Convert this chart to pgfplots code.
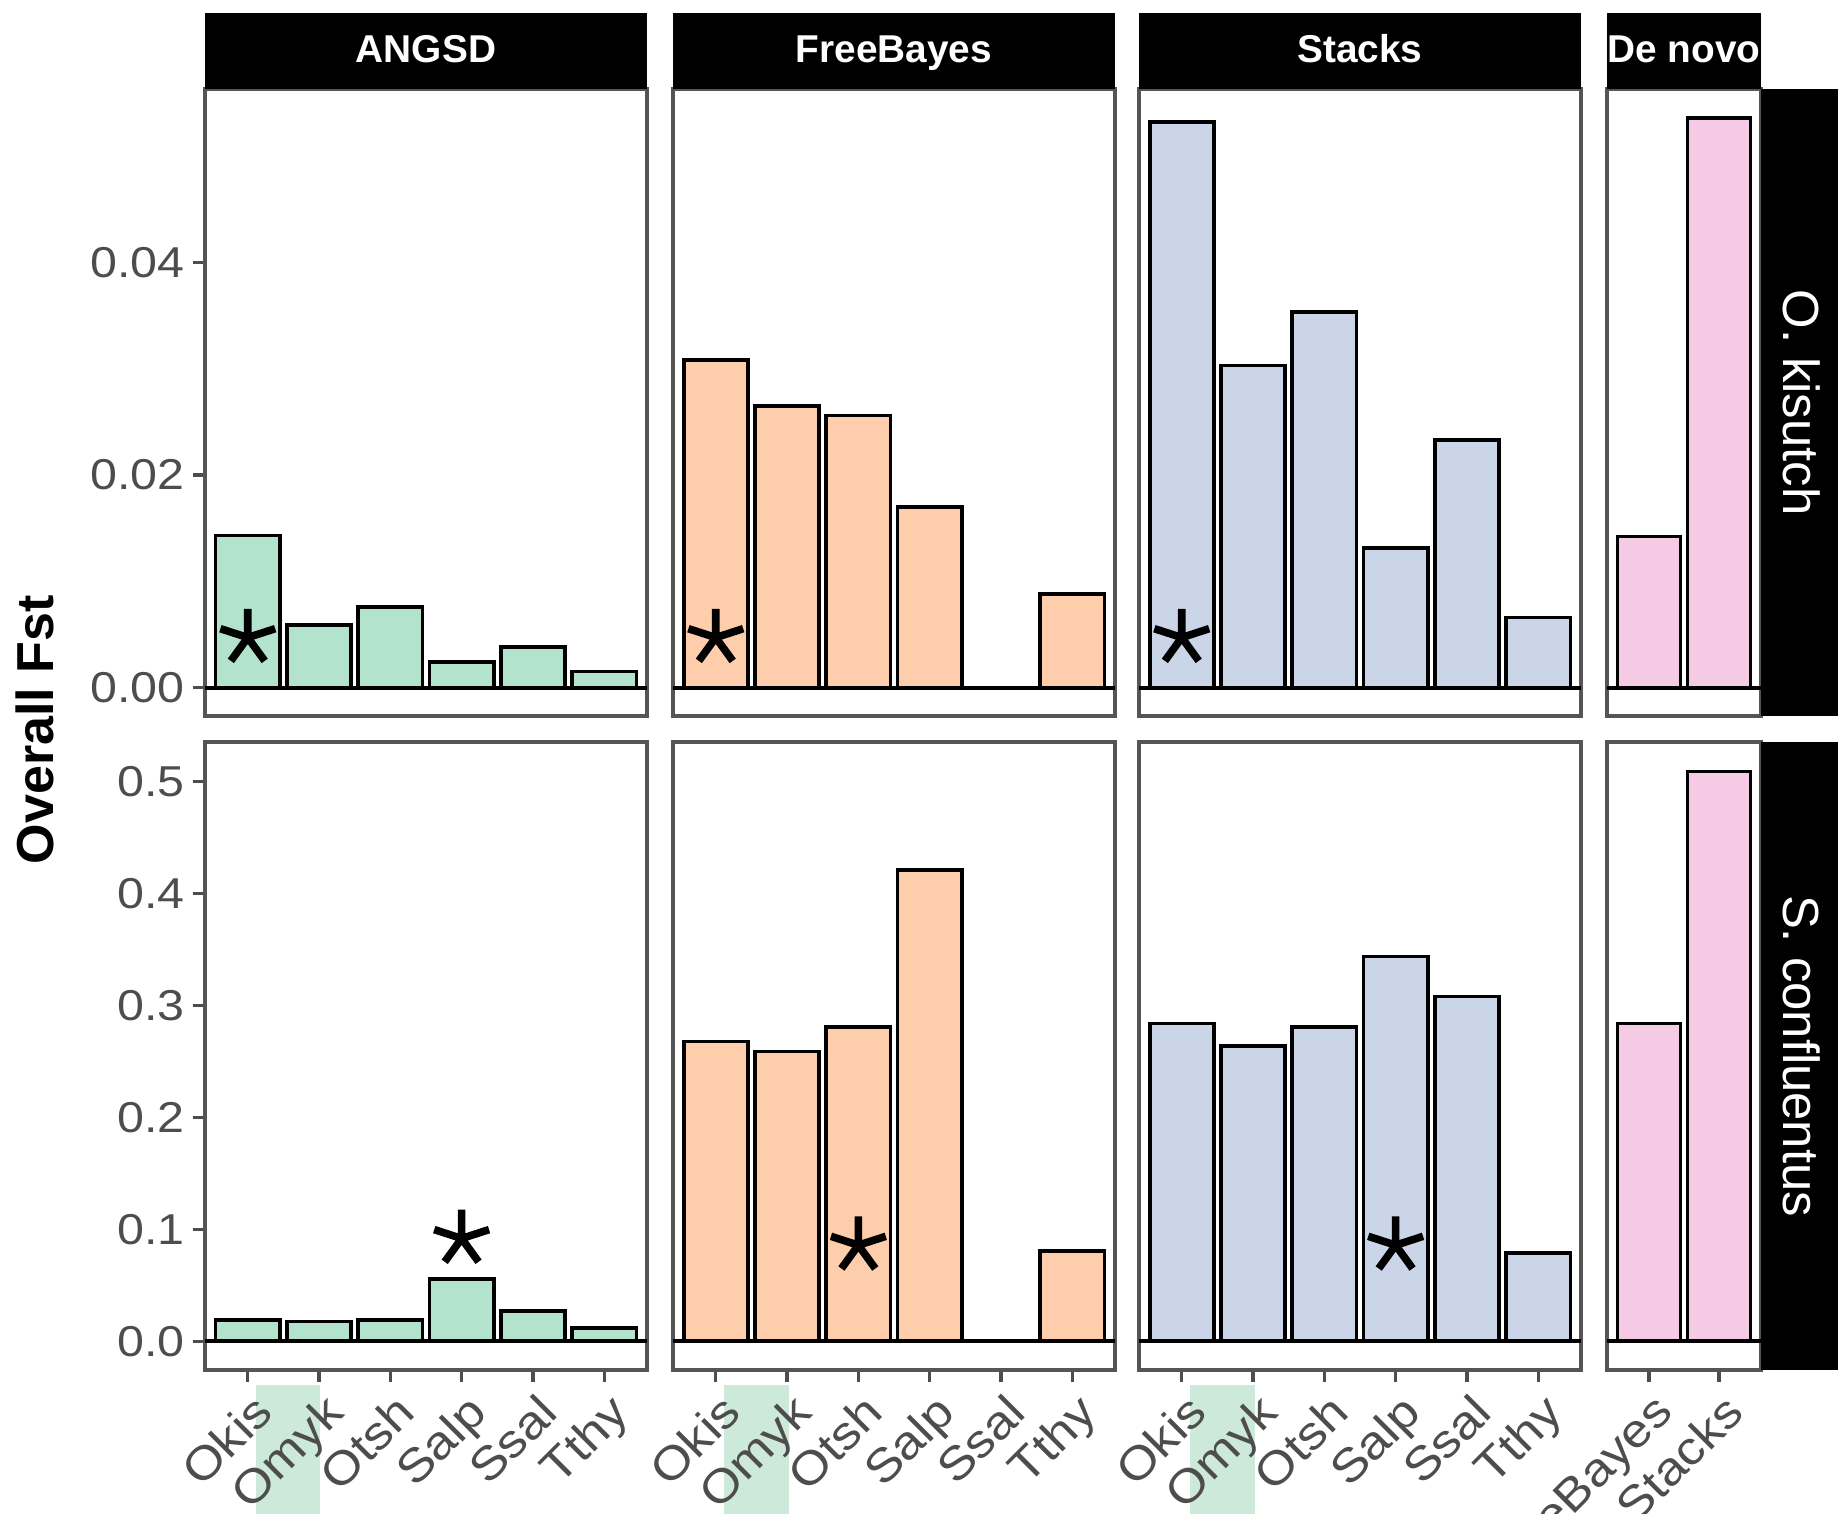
\documentclass[border=0pt]{standalone}
\usepackage{fontspec}
\setmainfont{Liberation Sans}
\newfontfamily\tickfont[FakeStretch=1.12]{Liberation Sans}
\usepackage{pgfplots}
\pgfplotsset{compat=1.18}

\definecolor{cA}{HTML}{B3E2CD}
\definecolor{cF}{HTML}{FDCDAC}
\definecolor{cS}{HTML}{CBD5E8}
\definecolor{cD}{HTML}{F4CAE4}
\definecolor{omykbg}{HTML}{CDE9D9}
\definecolor{framec}{HTML}{555555}
\definecolor{tickc}{HTML}{4D4D4D}

\pgfplotsset{
 panel/.style={
   set layers,
   scale only axis, width=110.5pt, anchor=south west,
   axis line style={framec, line width=0.95pt},
   xmin=-0.6, xmax=5.6,
   tick align=outside, tick pos=left,
   major tick length=2.9pt,
   every tick/.style={tickc, line width=0.8pt},
   ytick=\empty, xtick=\empty,
   clip=false,
   yticklabel style={font=\tickfont\fontsize{10.8}{12}\selectfont, text=tickc, xshift=1.3pt},
   xticklabel style={font=\tickfont\fontsize{11.6}{13}\selectfont, text=tickc,
      inner sep=1pt, xshift=0.8pt, yshift=-0.8pt, rotate=45, anchor=north east},
 },
 toprow/.style={height=156.75pt, ymin=-0.00268, ymax=0.0563},
 botrow/.style={height=157pt, ymin=-0.0255, ymax=0.5355},
 xlab/.style={xtick={0,...,5}, xticklabels={Okis,Omyk,Otsh,Salp,Ssal,Tthy}},
 bars/.style={ybar, bar width=0.9, bar shift=0pt, draw=black, line width=0.9pt},
 zline/.style={black, line width=1pt, mark=none},
 star/.style={only marks, mark=star, mark size=7.2pt, mark options={line width=1.9pt, draw=black}},
 hl/.style={fill=omykbg, draw=none, mark=none, on layer=axis background},
}

\begin{document}
\begin{tikzpicture}

% ---------------- top row: O. kisutch ----------------
\begin{axis}[panel, toprow, name=a1, at={(51.25pt,-179pt)},
  ytick={0,0.02,0.04}, yticklabels={0.00,0.02,0.04}]
\addplot[bars, fill=cA] coordinates {(0,0.0143) (1,0.0059) (2,0.0076) (3,0.0024) (4,0.0038) (5,0.0015)};
\addplot[zline] coordinates {(-0.6,0) (5.6,0)};
\addplot[star] coordinates {(0,0.0047)};
\end{axis}
\begin{axis}[panel, toprow, name=a2, at={(168.25pt,-179pt)}]
\addplot[bars, fill=cF] coordinates {(0,0.0308) (1,0.0265) (2,0.0256) (3,0.0170) (5,0.0088)};
\addplot[zline] coordinates {(-0.6,0) (5.6,0)};
\addplot[star] coordinates {(0,0.0047)};
\end{axis}
\begin{axis}[panel, toprow, name=a3, at={(284.75pt,-179pt)}]
\addplot[bars, fill=cS] coordinates {(0,0.0532) (1,0.0303) (2,0.0353) (3,0.0131) (4,0.0233) (5,0.0066)};
\addplot[zline] coordinates {(-0.6,0) (5.6,0)};
\addplot[star] coordinates {(0,0.0047)};
\end{axis}
\begin{axis}[panel, toprow, name=a4, at={(401.75pt,-179pt)}, width=38.5pt, xmin=-0.6, xmax=1.6]
\addplot[bars, fill=cD] coordinates {(0,0.0142) (1,0.0536)};
\addplot[zline] coordinates {(-0.6,0) (1.6,0)};
\end{axis}

% ---------------- bottom row: S. confluentus ----------------
\begin{axis}[panel, botrow, xlab, name=b1, at={(51.25pt,-342.5pt)},
  ytick={0,0.1,0.2,0.3,0.4,0.5}, yticklabels={0.0,0.1,0.2,0.3,0.4,0.5}]
\addplot[hl] coordinates {(0.12,-0.039) (1.02,-0.039) (1.02,-0.17) (0.12,-0.17)};
\addplot[bars, fill=cA] coordinates {(0,0.019) (1,0.018) (2,0.019) (3,0.056) (4,0.027) (5,0.012)};
\addplot[zline] coordinates {(-0.6,0) (5.6,0)};
\addplot[star] coordinates {(3,0.092)};
\end{axis}
\begin{axis}[panel, botrow, xlab, name=b2, at={(168.25pt,-342.5pt)}]
\addplot[hl] coordinates {(0.12,-0.039) (1.02,-0.039) (1.02,-0.17) (0.12,-0.17)};
\addplot[bars, fill=cF] coordinates {(0,0.268) (1,0.259) (2,0.281) (3,0.421) (5,0.081)};
\addplot[zline] coordinates {(-0.6,0) (5.6,0)};
\addplot[star] coordinates {(2,0.086)};
\end{axis}
\begin{axis}[panel, botrow, xlab, name=b3, at={(284.75pt,-342.5pt)}]
\addplot[hl] coordinates {(0.12,-0.039) (1.02,-0.039) (1.02,-0.17) (0.12,-0.17)};
\addplot[bars, fill=cS] coordinates {(0,0.284) (1,0.264) (2,0.281) (3,0.344) (4,0.308) (5,0.079)};
\addplot[zline] coordinates {(-0.6,0) (5.6,0)};
\addplot[star] coordinates {(3,0.086)};
\end{axis}
\begin{axis}[panel, botrow, name=b4, at={(401.75pt,-342.5pt)}, width=38.5pt, xmin=-0.6, xmax=1.6,
  xtick={0,1}, xticklabels={FreeBayes,Stacks}]
\addplot[bars, fill=cD] coordinates {(0,0.284) (1,0.509)};
\addplot[zline] coordinates {(-0.6,0) (1.6,0)};
\end{axis}

% ---------------- strips ----------------
\foreach \n/\t in {a1/ANGSD, a2/FreeBayes, a3/Stacks, a4/De novo}{
  \fill[black] (\n.north west) rectangle ([yshift=19pt]\n.north east);
  \node[anchor=base, text=white, inner sep=0pt, font=\bfseries\fontsize{9.7}{11}\selectfont]
     at ([yshift=6.75pt]\n.north) {\t};
}
\fill[black] (a4.north east) rectangle ([xshift=19.25pt]a4.south east);
\fill[black] (b4.north east) rectangle ([xshift=19.25pt]b4.south east);
\node[rotate=-90, anchor=base, text=white, inner sep=0pt, font=\fontsize{12.7}{14}\selectfont]
   at ([xshift=5.5pt]a4.east) {O. kisutch};
\node[rotate=-90, anchor=base, text=white, inner sep=0pt, font=\fontsize{12.7}{14}\selectfont]
   at ([xshift=5.5pt]b4.east) {S. confluentus};

% y title
\node[rotate=90, font=\bfseries\fontsize{13}{15}\selectfont] at (8.75pt,-182.4pt) {Overall Fst};

\pgfresetboundingbox
\useasboundingbox (0,0) rectangle (459.5pt,-378.25pt);
\end{tikzpicture}
\end{document}
